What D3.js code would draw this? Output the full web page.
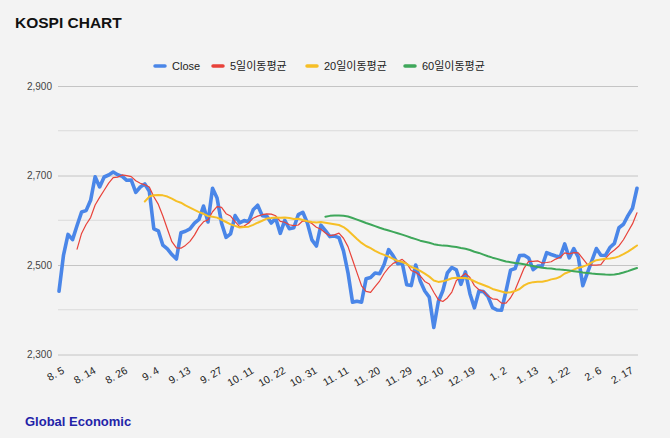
<!DOCTYPE html>
<html><head><meta charset="utf-8">
<script src="https://cdn.jsdelivr.net/npm/d3@7/dist/d3.min.js"></script>
<style>
html,body{margin:0;padding:0;background:#f3f3f3;}
svg{display:block;}
</style></head>
<body>
<svg id="chart" width="670" height="438"></svg>
<script>
// ---------- DATA ----------
const dates = ["8.5","8.6","8.7","8.8","8.9","8.12","8.13","8.14","8.16","8.19","8.20","8.21","8.22","8.23","8.26","8.27","8.28","8.29","8.30",
"9.2","9.3","9.4","9.5","9.6","9.9","9.10","9.11","9.12","9.13","9.19","9.20","9.23","9.24","9.25","9.26","9.27","9.30",
"10.2","10.4","10.7","10.8","10.10","10.11","10.14","10.15","10.16","10.17","10.18","10.21","10.22","10.23","10.24","10.25","10.28","10.29","10.30","10.31",
"11.1","11.4","11.5","11.6","11.7","11.8","11.11","11.12","11.13","11.14","11.15","11.18","11.19","11.20","11.21","11.22","11.25","11.26","11.27","11.28","11.29",
"12.2","12.3","12.4","12.5","12.6","12.9","12.10","12.11","12.12","12.13","12.16","12.17","12.18","12.19","12.20","12.23","12.24","12.26","12.27","12.30",
"1.2","1.3","1.6","1.7","1.8","1.9","1.10","1.13","1.14","1.15","1.16","1.17","1.20","1.21","1.22","1.23","1.24","1.31",
"2.3","2.4","2.5","2.6","2.7","2.10","2.11","2.12","2.13","2.14","2.17","2.18","2.19"];

const close = [2441.55,2522.15,2568.41,2556.73,2588.43,2618.30,2621.50,2644.50,2697.23,2674.36,2696.63,2701.13,2707.67,2701.69,2698.01,2689.25,2689.83,2662.28,2674.31,
2681.00,2664.63,2580.80,2576.20,2544.28,2535.93,2523.43,2513.37,2572.09,2575.41,2580.80,2593.37,2602.01,2631.68,2596.32,2671.57,2649.78,2593.27,
2561.69,2569.71,2610.38,2594.36,2599.16,2596.91,2623.32,2633.45,2610.36,2609.30,2593.82,2604.02,2570.70,2599.62,2581.03,2583.27,2612.43,2617.80,2593.79,2556.15,
2542.36,2588.97,2576.88,2563.51,2564.63,2561.15,2531.66,2482.57,2417.08,2418.86,2416.86,2469.07,2471.95,2482.12,2480.63,2501.24,2534.34,2520.36,2503.06,2504.67,2455.91,
2453.95,2500.10,2464.00,2441.85,2428.16,2360.58,2417.84,2442.51,2482.12,2494.46,2488.97,2456.81,2484.43,2435.93,2404.15,2442.01,2440.52,2429.67,2404.77,2399.49,
2398.94,2441.92,2488.64,2492.10,2521.05,2521.90,2515.78,2489.56,2497.42,2498.02,2527.49,2523.55,2520.05,2518.03,2547.06,2515.87,2536.80,2517.37,
2453.95,2481.69,2509.27,2536.75,2521.92,2521.27,2539.05,2548.39,2583.17,2591.05,2610.42,2626.81,2671.52];

// moving averages, aligned to the last date
const ma5 = [2535.4,2570.6,2590.6,2606.0,2634.0,2651.2,2667.0,2682.8,2695.4,2696.4,2701.2,2699.6,2697.4,2688.2,2682.6,2679.2,2674.4,2652.6,2635.4,2609.4,
2580.4,2552.0,2538.4,2537.6,2543.8,2552.8,2566.8,2584.6,2596.6,2600.8,2619.0,2630.4,2628.6,2614.6,2609.4,2597.0,2585.8,2587.0,2594.0,2604.6,
2609.2,2612.4,2614.4,2613.8,2610.0,2597.6,2595.6,2590.0,2587.8,2589.4,2598.8,2597.6,2592.6,2584.4,2579.8,2571.6,2565.6,2567.4,2571.2,2559.8,
2541.0,2511.6,2482.4,2453.6,2441.0,2438.8,2451.8,2464.2,2481.0,2494.0,2503.6,2507.8,2512.6,2503.6,2487.6,2483.6,2475.8,2463.2,2457.6,2439.0,
2422.6,2418.4,2426.4,2439.6,2465.2,2473.0,2481.2,2472.0,2454.0,2444.6,2441.4,2430.6,2424.4,2423.4,2414.8,2415.0,2426.8,2444.2,2468.6,2493.2,
2508.0,2508.2,2509.2,2504.6,2505.6,2507.2,2513.2,2517.4,2527.2,2525.0,2527.6,2527.0,2514.2,2501.2,2499.8,2499.8,2500.8,2514.2,2525.6,2533.4,
2542.6,2556.4,2574.2,2591.8,2616.6];

const ma20 = [2641.8,2652.9,2655.9,2656.3,2655.6,2653.0,2648.3,2642.8,2639.2,2633.1,2628.4,2623.2,2618.3,2614.5,2609.2,2607.9,2605.9,2601.1,2596.1,2590.9,
2587.3,2583.8,2584.7,2585.7,2589.7,2594.5,2598.9,2603.7,2604.8,2606.2,2605.7,2606.1,2605.0,2602.6,2603.4,2600.7,2597.9,2596.0,2595.0,2596.0,
2594.3,2592.8,2591.1,2589.3,2584.8,2577.3,2567.6,2558.1,2549.3,2542.5,2537.6,2531.7,2526.7,2522.6,2518.7,2513.8,2509.2,2506.7,2502.4,2495.6,
2491.8,2486.8,2480.6,2474.0,2465.4,2462.2,2463.5,2466.6,2470.5,2471.5,2470.7,2470.8,2468.6,2463.7,2459.1,2455.2,2451.5,2446.5,2443.7,2440.9,
2438.0,2439.3,2441.8,2446.4,2454.5,2459.4,2461.7,2462.5,2462.7,2464.6,2467.9,2469.7,2473.8,2481.0,2484.7,2489.5,2493.8,2496.3,2500.4,2505.9,
2510.7,2512.3,2513.8,2514.7,2516.0,2519.3,2524.4,2530.0,2536.5,2543.7];

const ma60 = [2607.8,2609.8,2610.5,2610.4,2610.0,2608.3,2604.9,2601.5,2597.7,2593.9,2590.6,2587.0,2583.3,2579.9,2577.1,2574.1,2571.0,2567.9,2564.5,2560.8,
2557.8,2554.4,2552.1,2549.7,2546.6,2544.6,2543.3,2542.8,2541.5,2540.1,2538.0,2536.2,2533.4,2529.6,2527.0,2523.2,2519.5,2516.4,2513.7,2510.8,
2508.0,2506.3,2504.5,2503.2,2501.5,2499.6,2497.6,2495.7,2494.1,2492.8,2492.1,2490.7,2489.7,2489.1,2487.5,2486.1,2484.8,2483.1,2482.1,2480.8,
2480.1,2479.4,2478.7,2478.3,2478.6,2480.3,2483.2,2486.4,2489.9,2493.2];

const seriesNames = ["Close","5일이동평균","20일이동평균","60일이동평균"];
const seriesColors = ["#4a86e8","#e8423a","#f6bf26","#3ea75a"];
const yTicks = [2300,2500,2700,2900];
const yMinor = [2400,2600,2800];
const labelEvery = 7;

// ---------- CHART ----------
const svg = d3.select("#chart");
const W = 670, H = 438;
const m = {left:59, right:637, top:86, bottom:354.5};

const x = d3.scalePoint().domain(dates).range([m.left, m.right]);
const y = d3.scaleLinear().domain([2300,2900]).range([m.bottom, m.top]);

// title
svg.append("text").attr("x",15).attr("y",28)
  .attr("font-family","Liberation Sans, Arial, sans-serif").attr("font-weight","bold")
  .attr("font-size",15.5).attr("fill","#111").text("KOSPI CHART");

// gridlines
svg.append("g").selectAll("line").data(yMinor).join("line")
  .attr("x1",m.left-1).attr("x2",m.right+1)
  .attr("y1",d=>y(d)).attr("y2",d=>y(d))
  .attr("stroke","#dadada").attr("stroke-width",1);

const yAxis = d3.axisLeft(y).tickValues(yTicks).tickFormat(d3.format(",")).tickSize(-(m.right-m.left+2)).tickPadding(6);
const gy = svg.append("g").attr("transform",`translate(${m.left-1},0)`).call(yAxis);
gy.select(".domain").remove();
gy.selectAll(".tick line").attr("stroke","#c4c4c4");
gy.selectAll(".tick text").attr("font-family","Liberation Sans, Arial, sans-serif")
  .attr("font-size",10).attr("fill","#444");

// x labels
const xLabelDates = dates.filter((d,i)=>i%labelEvery===0);
svg.append("g").selectAll("text").data(xLabelDates).join("text")
  .attr("transform",d=>`translate(${x(d)+6},${m.bottom+18}) rotate(-30)`)
  .attr("text-anchor","end")
  .attr("font-family","Liberation Sans, Arial, sans-serif").attr("font-size",10.5).attr("fill","#222")
  .text(d=>d.replace(".",". "));

// lines
function alignedLine(values){
  const off = dates.length - values.length;
  return values.map((v,i)=>({d:dates[i+off], v}));
}
const line = d3.line().x(p=>x(p.d)).y(p=>y(p.v)).curve(d3.curveLinear);
const lineSpecs = [
  {vals:close, color:seriesColors[0], w:3.6},
  {vals:ma5, color:seriesColors[1], w:1.2},
  {vals:ma20, color:seriesColors[2], w:2},
  {vals:ma60, color:seriesColors[3], w:2}
];
svg.append("g").selectAll("path").data(lineSpecs).join("path")
  .attr("d",s=>line(alignedLine(s.vals)))
  .attr("fill","none").attr("stroke",s=>s.color).attr("stroke-width",s=>s.w)
  .attr("stroke-linejoin","round").attr("stroke-linecap","round");

// legend
const legendX = [155,213,307,405];
const lg = svg.append("g");
seriesNames.forEach((name,i)=>{
  const g = lg.append("g").attr("transform",`translate(${legendX[i]},66)`);
  g.append("line").attr("x1",0).attr("x2",10).attr("y1",0).attr("y2",0)
    .attr("stroke",seriesColors[i]).attr("stroke-width",3.5).attr("stroke-linecap","round");
  g.append("text").attr("x",17).attr("y",4)
    .attr("font-family","Liberation Sans, 'Noto Sans CJK KR', sans-serif").attr("font-size",11).attr("fill","#222")
    .text(name);
});

// footer
svg.append("text").attr("x",25).attr("y",426)
  .attr("font-family","Liberation Sans, Arial, sans-serif").attr("font-weight","bold")
  .attr("font-size",13).attr("fill","#2323a8").text("Global Economic");
</script>
</body></html>
